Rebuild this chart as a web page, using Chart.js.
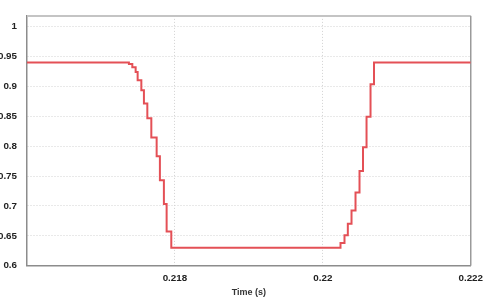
<!DOCTYPE html>
<html>
<head>
<meta charset="utf-8">
<script src="https://cdn.jsdelivr.net/npm/chart.js@4/dist/chart.umd.min.js"></script>
<style>
  html, body { margin: 0; padding: 0; background: #fff; }
  #wrap { width: 490px; height: 304px; }
</style>
</head>
<body>
<div id="wrap"><canvas id="chart"></canvas></div>
<script>
// time axis (s) and signal level
const timeS = [0.216, 0.217378, 0.217424, 0.217469, 0.217496, 0.217546, 0.217581, 0.217627,
  0.217681, 0.217753, 0.217797, 0.217851, 0.217888, 0.217951,
  0.220239, 0.220293, 0.220338, 0.220388, 0.220442, 0.220496, 0.220543, 0.220591,
  0.220645, 0.220692, 0.222];
const level = [0.94, 0.9376, 0.9321, 0.9239, 0.9101, 0.8936, 0.8714, 0.8466,
  0.8146, 0.7832, 0.743, 0.7033, 0.6574, 0.63,
  0.6381, 0.6508, 0.6702, 0.6922, 0.7225, 0.7584, 0.7981, 0.8494,
  0.9035, 0.94, 0.94];

const xTicks = [0.218, 0.22, 0.222];
const yTicks = [0.6, 0.65, 0.7, 0.75, 0.8, 0.85, 0.9, 0.95, 1];

const tickFont = { family: 'Liberation Sans, Arial, sans-serif', size: 9.8, weight: 'bold' };

// light frame on the top and right of the plot
const frame = {
  id: 'frame',
  beforeDatasetsDraw(chart) {
    const { ctx, chartArea: a } = chart;
    ctx.save();
    ctx.strokeStyle = '#c4c4c4';
    ctx.lineWidth = 2;
    ctx.beginPath();
    ctx.moveTo(a.left, a.top);
    ctx.lineTo(a.right, a.top);
    ctx.stroke();
    ctx.strokeStyle = '#9a9a9a';
    ctx.lineWidth = 1.5;
    ctx.beginPath();
    ctx.moveTo(a.right, a.top);
    ctx.lineTo(a.right, a.bottom);
    ctx.stroke();
    ctx.restore();
  }
};

new Chart(document.getElementById('chart'), {
  type: 'line',
  data: {
    datasets: [{
      data: timeS.map((t, i) => ({ x: t, y: level[i] })),
      borderColor: 'rgb(228, 80, 86)',
      borderWidth: 2,
      stepped: true,
      pointRadius: 0,
      fill: false
    }]
  },
  options: {
    responsive: true,
    maintainAspectRatio: false,
    animation: false,
    layout: { padding: { left: 0, top: 13, right: 18, bottom: 0 } },
    plugins: { legend: { display: false }, tooltip: { enabled: false } },
    scales: {
      x: {
        type: 'linear',
        min: 0.216,
        max: 0.222,
        afterBuildTicks: (s) => { s.ticks = xTicks.map(v => ({ value: v })); },
        afterFit: (s) => { s.height = 38.3; },
        ticks: {
          font: tickFont,
          color: '#222',
          padding: 7,
          maxRotation: 0,
          callback: (v) => String(v)
        },
        grid: { color: '#d2d2d2', lineWidth: 1, drawTicks: false },
        border: { color: '#8c8c8c', width: 1.5, dash: [1, 2] },
        title: {
          display: true,
          text: 'Time (s)',
          font: { family: 'Liberation Sans, Arial, sans-serif', size: 9, weight: 'bold' },
          color: '#333',
          padding: { top: 0, bottom: 6 }
        }
      },
      y: {
        type: 'linear',
        min: 0.6,
        max: 1.018,
        afterBuildTicks: (s) => { s.ticks = yTicks.map(v => ({ value: v })); },
        afterFit: (s) => { s.width = 27; },
        ticks: {
          font: tickFont,
          color: '#222',
          padding: 10,
          callback: (v) => String(v)
        },
        grid: { color: '#d2d2d2', lineWidth: 1, drawTicks: false },
        border: { color: '#8c8c8c', width: 1.5, dash: [1, 2] }
      }
    }
  },
  plugins: [frame]
});
</script>
</body>
</html>
